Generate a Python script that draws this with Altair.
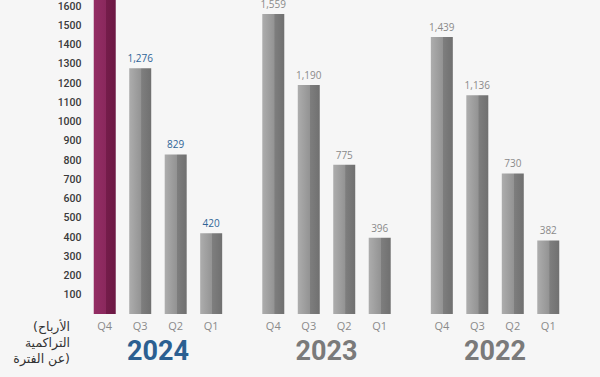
import altair as alt
import pandas as pd

years = ["2024"] * 4 + ["2023"] * 4 + ["2022"] * 4
quarters = ["Q4", "Q3", "Q2", "Q1"] * 3
values = [1700, 1276, 829, 420, 1559, 1190, 775, 396, 1439, 1136, 730, 382]
labels = ["", "1,276", "829", "420", "1,559", "1,190", "775", "396",
          "1,439", "1,136", "730", "382"]
year_order = ["2024", "2023", "2022"]
quarter_order = ["Q4", "Q3", "Q2", "Q1"]
y_ticks = list(range(100, 1700, 100))
note_lines = ["(الأرباح", "التراكمية", "عن الفترة)"]

LRM = "\u200e"

df = pd.DataFrame({"year": years, "quarter": quarters, "value": values, "label": labels})
df["highlight"] = (df["year"] == "2024") & (df["quarter"] == "Q4")
df["labcol"] = df["year"].map(lambda y: "blue" if y == "2024" else "gray")

years_df = pd.DataFrame({"year": year_order})

xs = alt.X("year:N", scale=alt.Scale(domain=year_order, paddingInner=0.158, paddingOuter=0), axis=None)
xo = alt.XOffset("quarter:N", scale=alt.Scale(domain=quarter_order, paddingInner=0.38, paddingOuter=0.19))
ys = alt.Y("value:Q", scale=alt.Scale(domain=[0, 1600], nice=False, zero=True),
           axis=alt.Axis(values=y_ticks, format="d", domain=False, ticks=False, grid=False, title=None,
                         labelFont="Roboto", labelFontSize=10.5, labelColor="#3a3a3a",
                         labelFontWeight=500, labelPadding=6, labelOverlap=False))

gray_grad = alt.Gradient(gradient="linear", x1=0, x2=1, y1=0, y2=0,
                         stops=[alt.GradientStop(offset=0, color="#adadad"),
                                alt.GradientStop(offset=0.55, color="#939393"),
                                alt.GradientStop(offset=0.56, color="#7e7e7e"),
                                alt.GradientStop(offset=1, color="#707070")])
purple_grad = alt.Gradient(gradient="linear", x1=0, x2=1, y1=0, y2=0,
                           stops=[alt.GradientStop(offset=0, color="#942d64"),
                                  alt.GradientStop(offset=0.55, color="#8a285d"),
                                  alt.GradientStop(offset=0.56, color="#741c4a"),
                                  alt.GradientStop(offset=1, color="#6c1843")])

base = alt.Chart(df)

gray_bars = base.transform_filter("!datum.highlight").mark_bar(fill=gray_grad).encode(x=xs, xOffset=xo, y=ys)
purple_bar = base.transform_filter("datum.highlight").mark_bar(fill=purple_grad).encode(x=xs, xOffset=xo, y=ys)

value_labels = base.transform_filter("datum.label != ''").mark_text(
    baseline="bottom", dy=-4, font="Open Sans", fontSize=10
).encode(
    x=xs, xOffset=xo, y=ys, text="label:N",
    color=alt.Color("labcol:N", scale=alt.Scale(domain=["blue", "gray"], range=["#2f6496", "#8a8a8a"]), legend=None),
)

q_labels = base.mark_text(baseline="middle", font="Open Sans", fontSize=11, color="#8a8a8a").encode(
    x=xs, xOffset=xo, y=alt.value(321), text="quarter:N"
)

year_labels = alt.Chart(years_df).mark_text(baseline="middle", font="Roboto", fontSize=27, fontWeight="bold").encode(
    x=xs, y=alt.value(346), text="year:N",
    color=alt.Color("year:N", scale=alt.Scale(domain=year_order, range=["#2b5f91", "#7a7a7a", "#7a7a7a"]), legend=None),
)

note_layers = []
for i, line in enumerate(note_lines):
    note_layers.append(
        alt.Chart(pd.DataFrame({"line": [LRM + line + LRM]})).mark_text(
            align="right", baseline="middle", font="DejaVu Sans", fontSize=12.5,
            color="#333333",
        ).encode(x=alt.value(-17), y=alt.value(321 + 16 * i), text="line:N")
    )

chart = alt.layer(gray_bars, purple_bar, value_labels, q_labels, year_labels, *note_layers).resolve_scale(
    color="independent"
).properties(
    width=479, height=308,
    autosize=alt.AutoSizeParams(type="none"),
    padding={"left": 87, "top": 6, "right": 34, "bottom": 63},
    background="#f6f6f6",
).configure_view(stroke=None)

chart.save("out.html", embed_options={"renderer": "svg", "actions": False})
